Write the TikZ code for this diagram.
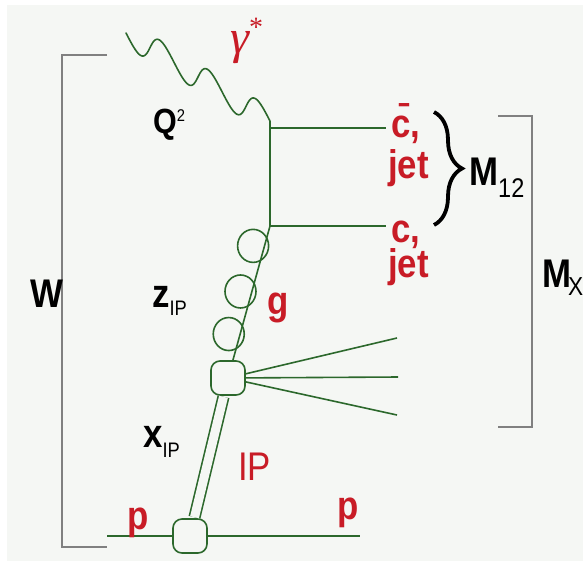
\documentclass[tikz,border=0pt]{standalone}
\usepackage{fontspec}
\setmainfont[FakeStretch=0.87]{Liberation Sans}
\newfontfamily\fonteGrega{Liberation Serif}
\usepackage{xcolor}
\usetikzlibrary{calc,decorations.pathreplacing}
\definecolor{fundo}{RGB}{245,247,244}
\definecolor{verdeLinha}{RGB}{44,104,44}
\definecolor{vermelho}{RGB}{200,28,38}
\definecolor{cinza}{RGB}{128,128,128}
\newcommand{\subIndice}[3]{\raisebox{-#2}{\mdseries\fontsize{#1}{#1}\selectfont #3}}
\tikzset{
    rotulo/.style={
        font=\bfseries\fontsize{40}{42}\selectfont,
        inner sep=0pt,
        anchor=base west
    },
    rotuloVermelho/.style={rotulo, text=vermelho},
    linha/.style={draw=verdeLinha, line width=1.6pt},
    foton/.style={linha, line join=round, line cap=round},
    vertice/.style={
        rectangle,
        draw=verdeLinha,
        line width=1.6pt,
        rounded corners=9pt,
        fill=fundo,
        minimum size=34pt,
        inner sep=0pt
    },
    laco/.style={draw=verdeLinha, line width=1.6pt},
    pomeron/.style={linha, double=fundo, double distance=9pt, shorten <=1pt, shorten >=1pt},
    colchete/.style={draw=cinza, line width=1.8pt},
    chave/.style={decorate, decoration={brace, amplitude=28pt}, line width=3.8pt}
}

\begin{document}
\begin{tikzpicture}[x=1pt, y=-1pt]
    \useasboundingbox (0,0) rectangle (583,571);
    \fill[fundo] (7,5) rectangle (583,561);

    % vertices e pontos finais
    \coordinate (fotonIni) at (126,33);
    \coordinate (qSup) at (270,121);
    \coordinate (qInf) at (270,226);
    \coordinate (cbarTopo) at (270,128);
    \coordinate (cbarFim) at (386,128);
    \coordinate (cFim) at (386,226);
    \node[vertice] (vPom) at (228,378) {};
    \node[vertice] (vProton) at (190,536) {};
    \coordinate (pIni) at (107,536);
    \coordinate (pFim) at (360,536);
    \coordinate (jato1) at (397,338);
    \coordinate (jato2) at (398,377);
    \coordinate (jato3) at (397,415);

    % linhas do diagrama
    \draw[foton] (fotonIni) \foreach \i in {1,...,120} {
        -- ($(fotonIni)!{\i/120}!(qSup)+({2.5*sin(9*\i)},{15*sin(9*\i)})$) };
    \draw[linha] (qSup) -- (qInf);
    \draw[linha] (cbarTopo) -- (cbarFim);
    \draw[linha] (qInf) -- (cFim);
    \draw[linha] (vPom) -- (qInf);
    \foreach \f in {0.27,0.55,0.85}
        \draw[laco] ($(vPom)!\f!(qInf)!11pt!90:(qInf)$) ellipse [x radius=15.5, y radius=16.5];
    \foreach \j in {1,2,3}
        \draw[linha] (vPom) -- (jato\j);
    \draw[pomeron] (vProton) -- (vPom);
    \draw[linha] (pIni) -- (vProton);
    \draw[linha] (vProton) -- (pFim);

    % colchetes W, M_X e chave M_12
    \draw[colchete] (107,55) -- (62,55) -- (62,547) -- (107,547);
    \draw[colchete] (498,116) -- (532,116) -- (532,427) -- (498,427);
    \draw[chave] (434,112) -- (434,225);

    % rotulos
    \node[rotulo] (W) at (30,307) {W};
    \node[rotulo, font=\bfseries\fontsize{35}{37}\selectfont] (Q2) at (153,133) {Q\subIndice{17}{-12pt}{2}};
    \node[rotuloVermelho, font=\fontsize{48}{50}\selectfont] (gama) at (230,53) {{\fonteGrega\itshape γ}\raisebox{17pt}{\fonteGrega\fontsize{28}{28}\selectfont *}};
    \node[rotuloVermelho] (cbar) at (391,137) {\=c,};
    \node[rotuloVermelho] (jet1) at (388,178) {jet};
    \node[rotuloVermelho] (c) at (391,242) {c,};
    \node[rotuloVermelho] (jet2) at (388,277) {jet};
    \node[rotulo] (M12) at (469,185) {M\subIndice{27}{12pt}{12}};
    \node[rotulo] (MX) at (542,287) {M\kern-3pt\subIndice{26}{8pt}{X}};
    \node[rotulo] (zP) at (152,307) {z\subIndice{21}{8pt}{IP}};
    \node[rotulo] (xP) at (143,447) {x\subIndice{21}{10pt}{IP}};
    \node[rotuloVermelho] (g) at (267,314) {g};
    \node[rotuloVermelho, font=\fontsize{40}{42}\selectfont] (IP) at (238,480) {IP};
    \node[rotuloVermelho] (pEsq) at (127,529) {p};
    \node[rotuloVermelho] (pDir) at (337,519) {p};
\end{tikzpicture}
\end{document}
